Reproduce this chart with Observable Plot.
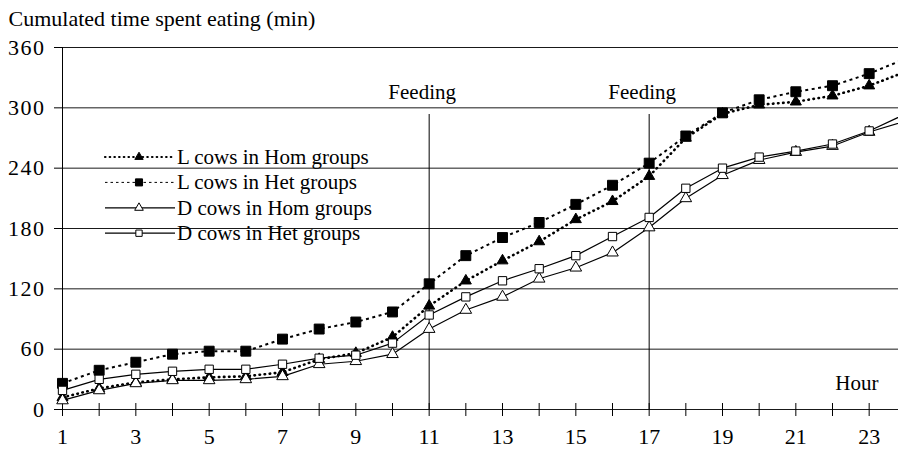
<!DOCTYPE html>
<html><head><meta charset="utf-8">
<script src="https://cdn.jsdelivr.net/npm/d3@7"></script>
<script src="https://cdn.jsdelivr.net/npm/@observablehq/plot@0.6"></script>
<style>
html,body{margin:0;padding:0;background:#fff;}
#chart{width:898px;height:454px;overflow:hidden;}
#chart svg text{font-family:'Liberation Serif','Times New Roman',Times,serif !important;}
</style></head><body><div id="chart"></div>
<script>
// ---- data ----
const hours = [1,2,3,4,5,6,7,8,9,10,11,12,13,14,15,16,17,18,19,20,21,22,23,24];
const xTickLabels = [1,3,5,7,9,11,13,15,17,19,21,23];
const yTicks = [0,60,120,180,240,300,360];
const feedingHours = [11, 17];
const feedingLabel = "Feeding";
const yTitle = "Cumulated time spent eating (min)";
const xTitle = "Hour";
const seriesNames = ["L cows in Hom groups", "L cows in Het groups", "D cows in Hom groups", "D cows in Het groups"];
const lHom = [12, 21, 27, 30, 32, 33, 37, 50, 56, 72, 103, 128, 148, 167, 189, 207, 232, 270, 294, 303, 306, 312, 322, 336];
const lHet = [26, 39, 47, 55, 58, 58, 70, 80, 87, 97, 125, 153, 171, 186, 204, 223, 245, 272, 295, 308, 316, 322, 334, 349];
const dHom = [9, 19, 26, 29, 29, 30, 33, 45, 48, 55, 80, 99, 112, 130, 141, 156, 181, 210, 233, 248, 256, 262, 276, 287];
const dHet = [19, 30, 35, 38, 40, 40, 45, 51, 54, 66, 94, 112, 128, 140, 153, 172, 191, 220, 240, 251, 257, 264, 277, 294];

// ---- build ----
const serif = "'Liberation Serif', 'Times New Roman', Times, serif";
const rows = hours.map((h, i) => ({hour: h, lHom: lHom[i], lHet: lHet[i], dHom: dHom[i], dHet: dHet[i]}));
const styles = [
  {key: "lHom", name: seriesNames[0], width: 2.6, dash: "0.5,4.6", cap: "round", symbol: "triangle", fill: "#000", r: 4.1,
   lgWidth: 2.2, lgDash: "0.5,4.2", lgCap: "round", lgSym: d3.symbolTriangle, lgSize: 30},
  {key: "lHet", name: seriesNames[1], width: 2, dash: "3,3.5", cap: "butt", symbol: "square", fill: "#000", r: 5.6,
   lgWidth: 1, lgDash: "2.5,3", lgCap: "butt", lgSym: d3.symbolSquare, lgSize: 50},
  {key: "dHom", name: seriesNames[2], width: 1.2, dash: null, cap: "butt", symbol: "triangle", fill: "#fff", r: 4.3,
   lgWidth: 1.2, lgDash: null, lgCap: "butt", lgSym: d3.symbolTriangle, lgSize: 32},
  {key: "dHet", name: seriesNames[3], width: 1.2, dash: null, cap: "butt", symbol: "square", fill: "#fff", r: 4.7,
   lgWidth: 1.2, lgDash: null, lgCap: "butt", lgSym: d3.symbolSquare, lgSize: 40}
];
const crossTick = {draw(ctx) { ctx.moveTo(0, -6.5); ctx.lineTo(0, 6.5); }};

const seriesMarks = styles.flatMap(s => [
  Plot.line(rows, {x: "hour", y: s.key, stroke: "#000", strokeWidth: s.width, strokeDasharray: s.dash, strokeLinecap: s.cap}),
  Plot.dot(rows, {x: "hour", y: s.key, symbol: s.symbol, r: s.r, fill: s.fill, stroke: "#000", strokeWidth: 1})
]);

const plot = Plot.plot({
  width: 898, height: 454,
  marginLeft: 62, marginRight: 0, marginTop: 47, marginBottom: 45,
  style: {fontFamily: serif, fontSize: "21px", color: "#000", background: "#fff"},
  x: {domain: [1, 23.8]},
  y: {domain: [0, 360]},
  marks: [
    Plot.gridY(yTicks, {stroke: "#000", strokeOpacity: 0.9, strokeWidth: 1}),
    Plot.axisY(yTicks, {tickSize: 8, tickPadding: 9, fontSize: 22, fontFamily: serif, label: null, stroke: "#000"}),
    Plot.axisX(xTickLabels, {tickSize: 0, tickPadding: 19, fontSize: 22, fontFamily: serif, label: null}),
    Plot.ruleX([hours[0]], {stroke: "#000", strokeWidth: 1}),
    Plot.dot(hours, {x: d => d, y: () => 0, symbol: crossTick, stroke: "#000", strokeWidth: 1}),
    Plot.ruleX(feedingHours, {stroke: "#000", strokeWidth: 1, insetTop: 67}),
    Plot.text(feedingHours, {x: d => d, text: () => feedingLabel, frameAnchor: "top", lineAnchor: "middle", dy: 45, dx: -7, fontSize: 21, fontFamily: serif}),
    Plot.text([xTitle], {text: d => d, frameAnchor: "bottom-right", lineAnchor: "middle", textAnchor: "end", dx: -20, dy: -26, fontSize: 21, fontFamily: serif}),
    Plot.text([yTitle], {text: d => d, frameAnchor: "top-left", lineAnchor: "middle", textAnchor: "start", dx: -54, dy: -29, fontSize: 22, fontFamily: serif}),
    ...seriesMarks
  ]
});

// ---- legend ----
const svg = d3.select(plot);
svg.selectAll('[aria-label="y-axis tick label"] text').attr("letter-spacing", "1.5px");
const lg = svg.append("g").attr("font-family", serif).attr("font-size", 21).attr("fill", "#000").attr("text-anchor", "start");
styles.forEach((s, i) => {
  const cy = 157 + i * 25.4;
  lg.append("line").attr("x1", 105).attr("x2", 175).attr("y1", cy).attr("y2", cy)
    .attr("stroke", "#000").attr("stroke-width", s.lgWidth)
    .attr("stroke-dasharray", s.lgDash).attr("stroke-linecap", s.lgCap);
  lg.append("path").attr("transform", `translate(139,${cy})`)
    .attr("d", d3.symbol(s.lgSym, s.lgSize)())
    .attr("fill", s.fill).attr("stroke", "#000").attr("stroke-width", 1);
  lg.append("text").attr("x", 177).attr("y", cy).attr("dy", "0.32em").attr("text-anchor", "start").text(s.name);
});

document.getElementById("chart").appendChild(plot);
</script></body></html>
